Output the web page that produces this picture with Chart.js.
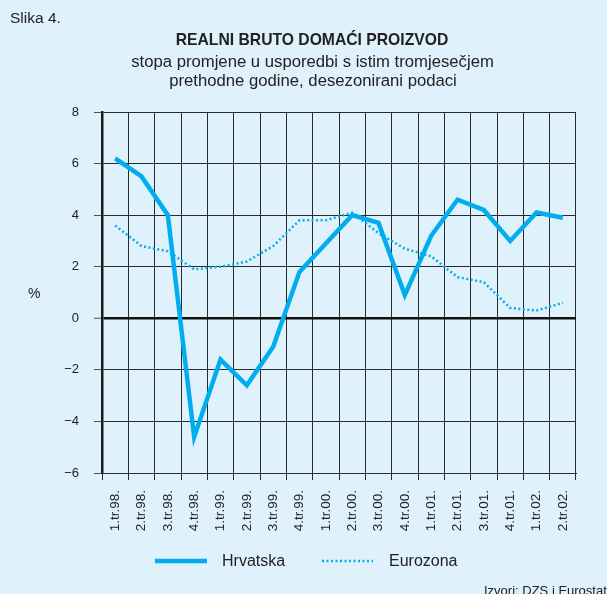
<!DOCTYPE html>
<html><head><meta charset="utf-8">
<script src="https://cdn.jsdelivr.net/npm/chart.js@4.4.1/dist/chart.umd.min.js"></script>
<style>
html,body{margin:0;padding:0;background:#dff1fb;width:607px;height:594px;overflow:hidden;}
#wrap{position:relative;width:607px;height:594px;font-family:"Liberation Sans",Arial,sans-serif;color:#222;overflow:hidden;}
canvas{position:absolute;left:0;top:0;}
.t{position:absolute;white-space:nowrap;line-height:1;}
</style></head><body>
<div id="wrap">
<canvas id="c" width="607" height="594"></canvas>
<div class="t" style="left:10px;top:9.6px;font-size:15.5px;">Slika 4.</div>
<div class="t" style="left:0;width:624px;text-align:center;top:31.7px;font-size:15.7px;font-weight:bold;">REALNI BRUTO DOMAĆI PROIZVOD</div>
<div class="t" style="left:0;width:625px;text-align:center;top:54.2px;font-size:16.7px;">stopa promjene u usporedbi s istim tromjesečjem</div>
<div class="t" style="left:0;width:626px;text-align:center;top:73.2px;font-size:16.7px;">prethodne godine, desezonirani podaci</div>
<div class="t" style="left:28px;top:286px;font-size:14px;">%</div>
<div class="t" style="left:484px;top:583.5px;font-size:13px;">Izvori: DZS i Eurostat</div>
</div>
<script>
const categories = ["1.tr.98.","2.tr.98.","3.tr.98.","4.tr.98.","1.tr.99.","2.tr.99.","3.tr.99.","4.tr.99.","1.tr.00.","2.tr.00.","3.tr.00.","4.tr.00.","1.tr.01.","2.tr.01.","3.tr.01.","4.tr.01.","1.tr.02.","2.tr.02."];
const hrvatska = [6.2, 5.5, 4.0, -4.6, -1.6, -2.6, -1.1, 1.8, 2.9, 4.0, 3.7, 0.9, 3.2, 4.6, 4.2, 3.0, 4.1, 3.9];
const eurozona = [3.6, 2.8, 2.6, 1.9, 2.0, 2.2, 2.8, 3.8, 3.8, 4.1, 3.3, 2.7, 2.4, 1.6, 1.4, 0.4, 0.3, 0.6];
const yTicks = [-6, -4, -2, 0, 2, 4, 6, 8];
const seriesNames = ["Hrvatska", "Eurozona"];

const blue = '#00aeef';
const FONT = '"Liberation Sans", Arial, sans-serif';

// Legend drawn from the datasets' own styles
const legendPlugin = {
  id: 'customLegend',
  afterDraw(chart) {
    const ctx = chart.ctx;
    const y = 561;
    const slots = [{x0: 155, x1: 207, tx: 222}, {x0: 322, x1: 373, tx: 389}];
    chart.data.datasets.forEach((ds, i) => {
      const s = slots[i];
      ctx.save();
      ctx.strokeStyle = ds.borderColor;
      ctx.lineWidth = ds.borderWidth;
      ctx.setLineDash(ds.borderDash || []);
      ctx.beginPath();
      ctx.moveTo(s.x0, y);
      ctx.lineTo(s.x1, y);
      ctx.stroke();
      ctx.setLineDash([]);
      ctx.fillStyle = '#222';
      ctx.font = '16px ' + FONT;
      ctx.textBaseline = 'middle';
      ctx.textAlign = 'left';
      ctx.fillText(ds.label, s.tx, y + 1);
      ctx.restore();
    });
  }
};

new Chart(document.getElementById('c'), {
  type: 'line',
  data: {
    labels: categories,
    datasets: [
      {label: seriesNames[0], data: hrvatska, borderColor: blue, backgroundColor: blue, borderWidth: 4.5, pointRadius: 0, tension: 0, borderJoinStyle: 'miter'},
      {label: seriesNames[1], data: eurozona, borderColor: blue, backgroundColor: blue, borderWidth: 2.5, borderDash: [2, 2.5], pointRadius: 0, tension: 0}
    ]
  },
  plugins: [legendPlugin],
  options: {
    responsive: false,
    animation: false,
    layout: {padding: {left: 62, right: 31, top: 112, bottom: 57}},
    plugins: {
      title: {display: false},
      tooltip: {enabled: false},
      legend: {display: false}
    },
    scales: {
      x: {
        type: 'category',
        offset: true,
        afterFit: s => { s.height = 64; },
        grid: {offset: true, color: '#2a2a2a', lineWidth: 1, drawTicks: true, tickLength: 7, tickColor: '#2a2a2a'},
        border: {display: true, color: '#2a2a2a', width: 1},
        ticks: {
          minRotation: 90, maxRotation: 90, autoSkip: false, padding: 10,
          color: '#222',
          font: {family: FONT, size: 13.5}
        }
      },
      y: {
        min: -6, max: 8,
        afterFit: s => { s.width = 40; },
        afterBuildTicks: s => { s.ticks = yTicks.map(v => ({value: v})); },
        grid: {
          color: ctx => ctx.tick && ctx.tick.value === 0 ? '#111' : '#2a2a2a',
          lineWidth: ctx => ctx.tick && ctx.tick.value === 0 ? 2.5 : 1,
          drawTicks: true, tickLength: 8, tickColor: '#555', tickWidth: 1
        },
        border: {display: true, color: '#1a1a1a', width: 2.5},
        ticks: {
          padding: 15,
          color: '#222',
          font: {family: FONT, size: 13},
          callback: v => v < 0 ? '\u2212' + Math.abs(v) : String(v)
        }
      }
    }
  }
});
</script>
</body></html>
